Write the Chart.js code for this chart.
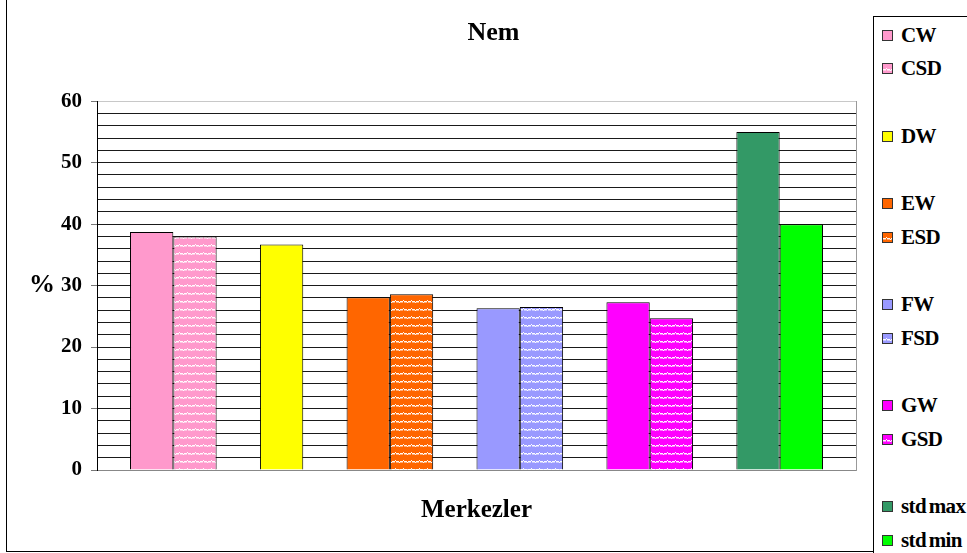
<!DOCTYPE html>
<html>
<head>
<meta charset="utf-8">
<script src="https://cdn.jsdelivr.net/npm/chart.js@4.4.1/dist/chart.umd.min.js"></script>
<style>
  html, body { margin: 0; padding: 0; background: #fff; overflow: hidden; }
  #wrap { position: relative; width: 967px; height: 553px; overflow: hidden; }
  #nemChart { position: absolute; left: 0; top: 0; }
  #frame { position: absolute; left: 6px; top: -10px; width: 1100px; height: 560px; border: 1px solid #000; }
  #legend { position: absolute; left: 873px; top: 16px; width: 200px; height: 600px; border: 1px solid #000; background: #fff; }
  .item { position: absolute; left: 8px; height: 24px; display: flex; align-items: center;
    font-family: "Liberation Serif", serif; font-weight: bold; font-size: 21px;
    letter-spacing: -0.6px; word-spacing: -2px; color: #000; }
  .swatch { width: 9px; height: 9px; border: 1px solid #333; margin-right: 8px; background-repeat: repeat; }
</style>
</head>
<body>
<div id="wrap">
  <div id="frame"></div>
  <canvas id="nemChart" width="987" height="553"></canvas>
  <div id="legend"></div>
</div>
<script>
// one category, the blank series only keep the gaps between the groups
const categories = [""];
const seriesNames = ["CW", "CSD", "", "DW", "", "EW", "ESD", "", "FW", "FSD", "", "GW", "GSD", "", "std max", "std min"];
const seriesValues = [38.7, 38.0, null, 36.7, null, 28.1, 28.6, null, 26.3, 26.5, null, 27.3, 24.7, null, 55.0, 40.0];
const seriesColors = ["#FF99CC", "#FF99CC", null, "#FFFF00", null, "#FF6600", "#FF6600", null, "#9999FF", "#9999FF", null, "#FF00FF", "#FF00FF", null, "#339966", "#00FF00"];
const patterned = [false, true, false, false, false, false, true, false, false, true, false, false, true, false, false, false];
const yTicks = [0, 10, 20, 30, 40, 50, 60];

const serif = "'Liberation Serif', 'Times New Roman', serif";

// small tile with white wavy rows, like the SD fills
function makeTile(color) {
  const c = document.createElement("canvas");
  c.width = 8;
  c.height = 8;
  const g = c.getContext("2d");
  g.fillStyle = color;
  g.fillRect(0, 0, 8, 8);
  g.fillStyle = "rgba(255,255,255,0.95)";
  g.fillRect(0, 5, 3, 1);
  g.fillRect(3, 4, 1, 1);
  g.fillRect(4, 5, 3, 1);
  g.fillRect(7, 6, 1, 1);
  g.fillStyle = "rgba(255,255,255,0.45)";
  g.fillRect(0, 6, 3, 1);
  g.fillRect(4, 6, 3, 1);
  return c;
}

const ctx = document.getElementById("nemChart").getContext("2d");

const datasets = seriesNames.map((name, i) => {
  let fill = seriesColors[i] || "rgba(0,0,0,0)";
  if (patterned[i]) {
    fill = ctx.createPattern(makeTile(seriesColors[i]), "repeat");
  }
  return {
    label: name,
    data: [seriesValues[i]],
    backgroundColor: fill,
    borderColor: "#000",
    borderWidth: 1,
    categoryPercentage: 0.913,
    barPercentage: 1.0,
  };
});

// "%" label is written flat, not rotated, left of the value axis
const percentLabel = {
  id: "percentLabel",
  afterDraw(chart) {
    const a = chart.chartArea;
    const c = chart.ctx;
    c.save();
    c.font = "bold 26px " + serif;
    c.fillStyle = "#000";
    c.textAlign = "center";
    c.textBaseline = "middle";
    c.fillText("%", a.left - 55, (a.top + a.bottom) / 2);
    c.restore();
  },
};

new Chart(ctx, {
  type: "bar",
  data: { labels: categories, datasets: datasets },
  options: {
    responsive: false,
    animation: false,
    layout: { padding: 0 },
    plugins: {
      legend: { display: false },
      tooltip: { enabled: false },
      title: {
        display: true,
        text: "Nem",
        color: "#000",
        font: { family: serif, size: 26, weight: "bold" },
        padding: { top: 18, bottom: 52 },
      },
    },
    scales: {
      x: {
        grid: { display: false, drawTicks: false },
        ticks: { display: false },
        border: { display: true, color: "#888", width: 1 },
        title: {
          display: true,
          text: "Merkezler",
          color: "#000",
          font: { family: serif, size: 25, weight: "bold" },
          padding: { top: 26, bottom: 27 },
        },
      },
      y: {
        min: 0,
        max: 60,
        afterFit: (scale) => {
          scale.width = 97;
        },
        ticks: {
          stepSize: 2,
          maxTicksLimit: 40,
          autoSkip: false,
          padding: 9,
          color: "#000",
          font: { family: serif, size: 21, weight: "bold" },
          callback: (v) => (yTicks.includes(v) ? v : ""),
        },
        grid: {
          tickLength: 6,
          color: (c) => (c.tick && c.tick.value === 60 ? "#c8c8c8" : c.tick && c.tick.value === 0 ? "#888" : "#1a1a1a"),
          tickColor: (c) => (c.tick && yTicks.includes(c.tick.value) ? "#777" : "rgba(0,0,0,0)"),
        },
        border: { display: true, color: "#000", width: 1 },
      },
      // empty axis on the right, keeps room for the legend box
      yPad: {
        type: "linear",
        position: "right",
        afterFit: (scale) => {
          scale.width = 131;
        },
        grid: { display: false },
        ticks: { display: false },
        border: { display: true, color: "#999", width: 1 },
      },
    },
  },
  plugins: [percentLabel],
});

// html legend, blank names keep the gaps
const legend = document.getElementById("legend");
seriesNames.forEach((name, i) => {
  if (!name) return;
  const row = document.createElement("div");
  row.className = "item";
  row.style.top = 6 + i * 33.67 + "px";
  const sw = document.createElement("span");
  sw.className = "swatch";
  if (patterned[i]) {
    sw.style.backgroundImage = "url(" + makeTile(seriesColors[i]).toDataURL() + ")";
  } else {
    sw.style.backgroundColor = seriesColors[i];
  }
  const txt = document.createElement("span");
  txt.textContent = name;
  row.appendChild(sw);
  row.appendChild(txt);
  legend.appendChild(row);
});
</script>
</body>
</html>
